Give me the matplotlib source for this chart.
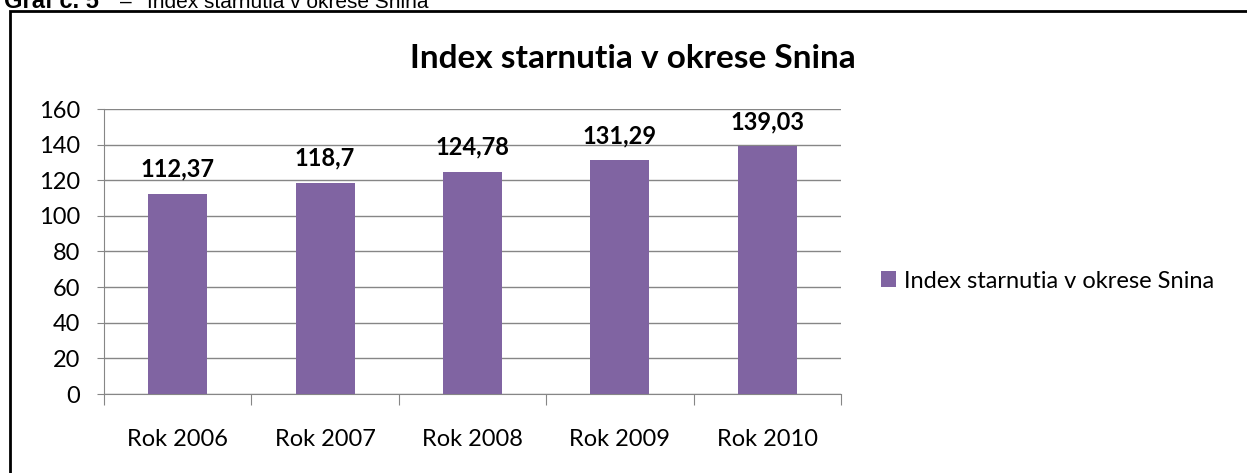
import matplotlib.pyplot as plt
from matplotlib.patches import Rectangle

# data
years = ['Rok 2006', 'Rok 2007', 'Rok 2008', 'Rok 2009', 'Rok 2010']
values = [112.37, 118.7, 124.78, 131.29, 139.03]
value_labels = ['112,37', '118,7', '124,78', '131,29', '139,03']
series_name = 'Index starnutia v okrese Snina'

bar_color = '#8064A2'
grid_color = '#868686'
font = ['Lato', 'DejaVu Sans']

fig = plt.figure(figsize=(12.47, 4.73), dpi=100)

# outer frame (cut at right/bottom like the screenshot)
fig.patches.append(Rectangle((10 / 1247, -0.1), 1.2, (473 - 11) / 473 + 0.1,
                             transform=fig.transFigure, fill=False,
                             edgecolor='black', linewidth=2))

# caption above the frame, top half cut off
cap_y = 1 - 8 / 473
fig.text(4 / 1247, cap_y, 'Graf č. 5', fontsize=17, fontweight='bold',
         family='Liberation Sans', va='baseline', ha='left')
fig.text(120 / 1247, cap_y, '–', fontsize=15,
         family='Liberation Sans', va='baseline', ha='left')
fig.text(147 / 1247, cap_y, 'Index starnutia v okrese Snina', fontsize=15,
         family='Liberation Sans', va='baseline', ha='left')

ax = fig.add_axes([104 / 1247, (473 - 394) / 473, 737 / 1247, 285 / 473])

x = range(len(years))
bars = ax.bar(x, values, width=0.4, color=bar_color, label=series_name, zorder=3)

ax.set_xlim(-0.5, len(years) - 0.5)
ax.set_ylim(0, 160)
ax.set_yticks(range(0, 161, 20))
ax.yaxis.grid(True, color=grid_color, linewidth=1, zorder=0)

for s in ['top', 'right']:
    ax.spines[s].set_visible(False)
ax.spines['left'].set_color(grid_color)
ax.spines['bottom'].set_color(grid_color)

ax.tick_params(axis='y', length=5, color=grid_color, labelsize=17, pad=12)
ax.set_xticks([i - 0.5 for i in range(len(years) + 1)], minor=False)
ax.set_xticklabels([])
ax.tick_params(axis='x', length=8, color=grid_color)
ax.set_xticks(list(x), minor=True)
ax.set_xticklabels(years, minor=True)
ax.tick_params(axis='x', which='minor', length=0, labelsize=17, pad=25)

for lbl in ax.get_yticklabels() + ax.get_xticklabels(minor=True):
    lbl.set_family(font)

for b, t in zip(bars, value_labels):
    ax.text(b.get_x() + b.get_width() / 2, b.get_height() + 9.5, t,
            ha='center', va='baseline', fontsize=17, fontweight='bold', family=font)

fig.text(633 / 1247, 1 - 58 / 473, series_name, fontsize=24, fontweight='bold',
         family=font, ha='center', va='center')

ax.legend(loc='center left', bbox_to_anchor=(860 / 1247, 1 - 281 / 473),
          bbox_transform=fig.transFigure, frameon=False,
          prop={'family': font, 'size': 17}, handlelength=0.63, handleheight=0.63,
          handletextpad=0.35)

fig.savefig('out.png', dpi=100)
